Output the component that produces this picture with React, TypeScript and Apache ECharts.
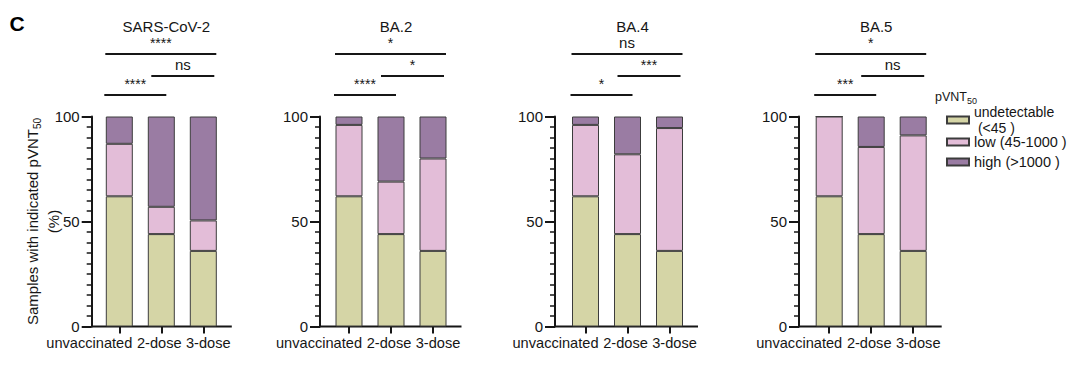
import React, { useEffect, useRef } from 'react';
import * as echarts from 'echarts';

// ---------- data ----------
const categories = ['unvaccinated', '2-dose', '3-dose'];
const panelTitles = ['SARS-CoV-2', 'BA.2', 'BA.4', 'BA.5'];
const levelNames = ['undetectable (<45 )', 'low (45-1000 )', 'high (>1000 )'];
// stacked percentages per panel: [unvaccinated, 2-dose, 3-dose]
const undetectable = [
  [62, 44, 36],
  [62, 44, 36],
  [62, 44, 36],
  [62, 44, 36],
];
const low = [
  [25, 13, 14.5],
  [34, 25, 44],
  [34, 38, 58.5],
  [38, 41.5, 55],
];
const high = [
  [13, 43, 49.5],
  [4, 31, 20],
  [4, 18, 5.5],
  [0, 14.5, 9],
];
const yTicks = [0, 50, 100];
// significance labels: [unvaccinated vs 3-dose, 2-dose vs 3-dose, unvaccinated vs 2-dose]
const sigLabels = [
  ['****', 'ns', '****'],
  ['*', '*', '****'],
  ['ns', '***', '*'],
  ['*', 'ns', '***'],
];

// ---------- layout / style ----------
const FONT = 'Liberation Sans, Arial, Helvetica, sans-serif';
const INK = '#161616';
const COLORS = ['#D5D5A6', '#E3BDD8', '#9A7CA3'];
const AXIS_X = [91.7, 320, 555, 799];
const FIRST_CENTER = [119.3, 349, 585.5, 829.2];
const STEP = 42;
const GRID_TOP = 116.5;
const GRID_H = 210;
const SIG_Y = [54, 76, 95];
const LABEL_SHIFT = [-30, -2, 5];
const XLABEL_SIZE = 14.6;

export default function App() {
  const ref = useRef<HTMLDivElement>(null);

  useEffect(() => {
    if (!ref.current) return;
    const chart = echarts.init(ref.current, undefined, { renderer: 'svg' });
    const levels = [undetectable, low, high];

    const grids: any[] = [];
    const xAxes: any[] = [];
    const yAxes: any[] = [];
    const series: any[] = [];
    const titles: any[] = [];
    const graphics: any[] = [];

    const rich: any = {};
    LABEL_SHIFT.forEach((s, i) => {
      rich['c' + i] = {
        fontSize: XLABEL_SIZE,
        fontFamily: FONT,
        color: INK,
        padding: s < 0 ? [0, -2 * s, 0, 0] : [0, 0, 0, 2 * s],
      };
    });

    for (let p = 0; p < 4; p++) {
      const gridLeft = FIRST_CENTER[p] - STEP / 2;
      grids.push({ left: gridLeft, top: GRID_TOP, width: STEP * 3, height: GRID_H, containLabel: false });
      xAxes.push({
        type: 'category',
        gridIndex: p,
        data: categories,
        boundaryGap: true,
        axisLine: { show: false },
        axisTick: { show: true, alignWithLabel: true, length: 7, lineStyle: { width: 2, color: INK } },
        axisLabel: {
          interval: 0,
          margin: 9,
          fontSize: XLABEL_SIZE,
          fontFamily: FONT,
          color: INK,
          formatter: (v: string, i: number) => `{c${i}|${v}}`,
          rich,
        },
      });
      yAxes.push({
        type: 'value',
        gridIndex: p,
        min: yTicks[0],
        max: yTicks[yTicks.length - 1],
        interval: yTicks[1] - yTicks[0],
        offset: gridLeft - AXIS_X[p],
        axisLine: { show: true, lineStyle: { width: 2, color: INK } },
        axisTick: { show: true, length: 10, lineStyle: { width: 2, color: INK } },
        minorTick: { show: true, splitNumber: 10, length: 5, lineStyle: { width: 1.5, color: INK } },
        splitLine: { show: false },
        minorSplitLine: { show: false },
        axisLabel: { fontSize: 15, margin: 12, color: INK, fontFamily: FONT },
        name: p === 0 ? 'Samples with indicated pVNT{sub|50}\n(%)' : '',
        nameLocation: 'middle',
        nameRotate: 90,
        nameGap: 28,
        nameMoveOverlap: false,
        nameTextStyle: {
          fontSize: 15,
          fontFamily: FONT,
          color: INK,
          lineHeight: 21,
          rich: {
            sub: { fontSize: 10, fontFamily: FONT, color: INK, verticalAlign: 'bottom', lineHeight: 20 },
          },
        },
      });
      levels.forEach((lv, l) => {
        series.push({
          type: 'bar',
          name: levelNames[l],
          stack: 'panel' + p,
          xAxisIndex: p,
          yAxisIndex: p,
          data: lv[p],
          barWidth: 27,
          itemStyle: { color: COLORS[l], borderColor: '#3c3c3c', borderWidth: 1 },
          emphasis: { disabled: true },
        });
      });

      const c1 = FIRST_CENTER[p];
      const c2 = c1 + STEP;
      const c3 = c1 + 2 * STEP;
      titles.push({
        text: panelTitles[p],
        left: c2,
        top: 14,
        textAlign: 'center',
        textStyle: { fontSize: 15, fontWeight: 'normal', fontFamily: FONT, color: INK },
      });
      // x axis baseline (extends from the offset y axis)
      graphics.push({
        type: 'line',
        shape: { x1: AXIS_X[p], y1: GRID_TOP + GRID_H, x2: c3 + 28.5, y2: GRID_TOP + GRID_H },
        style: { stroke: INK, lineWidth: 2 },
      });
      // significance brackets
      const spans = [
        [c1 - 14, c3 + 13],
        [c2 - 10, c3 + 11],
        [c1 - 15, c2 + 5],
      ];
      spans.forEach((s, k) => {
        graphics.push({
          type: 'line',
          shape: { x1: s[0], y1: SIG_Y[k], x2: s[1], y2: SIG_Y[k] },
          style: { stroke: INK, lineWidth: 2 },
        });
        const lab = sigLabels[p][k];
        graphics.push({
          type: 'text',
          x: (s[0] + s[1]) / 2,
          y: SIG_Y[k] - 4,
          style: {
            text: lab,
            fontSize: lab === 'ns' ? 15 : 14,
            fontFamily: FONT,
            fill: INK,
            textAlign: 'center',
            textVerticalAlign: 'bottom',
          },
        });
      });
    }

    // panel letter
    graphics.push({
      type: 'text',
      x: 17,
      y: 23,
      style: { text: 'C', fontSize: 21, fontWeight: 'bold', fontFamily: FONT, fill: '#000', textAlign: 'center', textVerticalAlign: 'middle' },
    });
    // legend title
    graphics.push({
      type: 'text',
      x: 935,
      y: 97,
      style: {
        text: 'pVNT{sub|50}',
        fontSize: 12.5,
        fontFamily: FONT,
        fill: INK,
        textVerticalAlign: 'middle',
        rich: { sub: { fontSize: 9, fontFamily: FONT, fill: INK, verticalAlign: 'bottom', lineHeight: 16 } },
        lineHeight: 16,
      } as any,
    });

    const legendCommon = {
      orient: 'vertical',
      left: 946,
      padding: 0,
      itemWidth: 22,
      itemHeight: 7,
      icon: 'rect',
      itemGap: 2,
      selectedMode: false,
      formatter: (n: string) => (n === levelNames[0] ? 'undetectable\n (<45 )' : n),
    };

    chart.setOption({
      animation: false,
      backgroundColor: '#ffffff',
      title: titles,
      grid: grids,
      xAxis: xAxes,
      yAxis: yAxes,
      series,
      legend: [
        {
          ...legendCommon,
          top: 104,
          data: [levelNames[0]],
          textStyle: { fontSize: 14, fontFamily: FONT, color: INK, lineHeight: 16 },
        },
        {
          ...legendCommon,
          top: 133,
          data: [levelNames[1], levelNames[2]],
          textStyle: { fontSize: 14.5, fontFamily: FONT, color: INK, lineHeight: 18 },
        },
      ],
      graphic: graphics,
    });

    return () => chart.dispose();
  }, []);

  return (
    <div
      ref={ref}
      style={{ position: 'fixed', left: 0, top: 0, width: 1080, height: 375, background: '#fff' }}
    />
  );
}
